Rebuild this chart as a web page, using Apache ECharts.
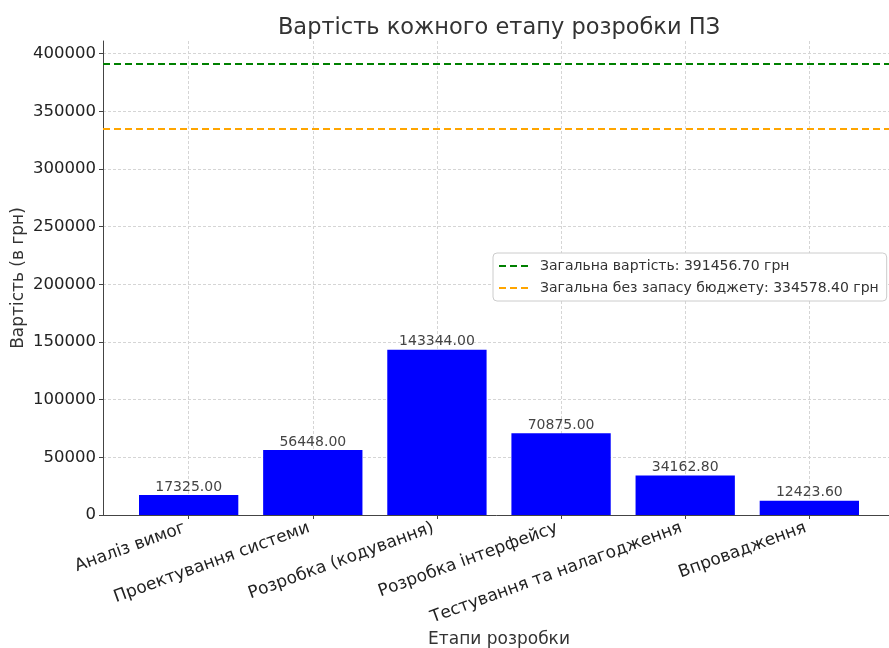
<!DOCTYPE html>
<html>
<head>
<meta charset="utf-8">
<script src="https://cdn.jsdelivr.net/npm/echarts@6/dist/echarts.min.js"></script>
<style>
  html, body { margin: 0; padding: 0; background: #fff; }
  #chart { width: 889px; height: 648px; }
</style>
</head>
<body>
<div id="chart"></div>
<script>
const stages = ['Аналіз вимог', 'Проектування системи', 'Розробка (кодування)', 'Розробка інтерфейсу', 'Тестування та налагодження', 'Впровадження'];
const costs = [17325.00, 56448.00, 143344.00, 70875.00, 34162.80, 12423.60];
const totalCost = 391456.70;
const totalNoReserve = 334578.40;
const yTicks = [0, 50000, 100000, 150000, 200000, 250000, 300000, 350000, 400000];
const xTicks = stages.map((s, i) => i);

const font = 'DejaVu Sans';
const chart = echarts.init(document.getElementById('chart'));

// matplotlib-style margins around the bars
const xMin = -0.69, xMax = stages.length - 1 + 0.69;
const yMax = totalCost * 1.05;

const options = {
  animation: false,
  title: {
    text: 'Вартість кожного етапу розробки ПЗ',
    left: 494,
    textAlign: 'center',
    top: 12,
    textStyle: { fontFamily: font, fontSize: 22.5, fontWeight: 'normal', color: '#333' },
  },
  legend: {
    left: 493,
    top: 253,
    orient: 'vertical',
    backgroundColor: '#fff',
    borderColor: '#ccc',
    borderWidth: 1,
    borderRadius: 4,
    padding: [6, 8, 6, 5],
    itemWidth: 30,
    itemHeight: 14,
    itemGap: 8,
    itemStyle: { opacity: 0 },
    textStyle: { fontFamily: font, fontSize: 14, color: '#333', padding: [0, 0, 0, 6] },
    data: [
      'Загальна вартість: ' + totalCost.toFixed(2) + ' грн',
      'Загальна без запасу бюджету: ' + totalNoReserve.toFixed(2) + ' грн',
    ],
  },
  grid: { left: 103, right: -6, top: 41, bottom: 133, outerBoundsMode: 'none', containLabel: false },
  xAxis: {
    type: 'value',
    min: xMin,
    max: xMax,
    name: 'Етапи розробки',
    nameLocation: 'middle',
    nameGap: 116,
    nameMoveOverlap: false,
    nameTextStyle: { fontFamily: font, fontSize: 17, color: '#333' },
    axisLine: { show: true, onZero: false, lineStyle: { color: '#444', width: 1 } },
    axisTick: { show: true, customValues: xTicks, length: 4, lineStyle: { color: '#444' } },
    axisLabel: {
      customValues: xTicks,
      rotate: 20,
      margin: 11,
      padding: [0, 4, 0, 0],
      fontFamily: font,
      fontSize: 17,
      color: '#222',
      formatter: v => stages[Math.round(v)],
    },
    splitLine: { show: true, lineStyle: { color: '#d5d5d5', type: [3, 2], width: 1 } },
  },
  yAxis: {
    type: 'value',
    min: 0,
    max: yMax,
    name: 'Вартість (в грн)',
    nameLocation: 'middle',
    nameGap: 76,
    nameMoveOverlap: false,
    nameTextStyle: { fontFamily: font, fontSize: 17, color: '#333' },
    axisLine: { show: true, onZero: false, lineStyle: { color: '#444', width: 1 } },
    axisTick: { show: true, customValues: yTicks, length: 4, lineStyle: { color: '#444' } },
    axisLabel: {
      customValues: yTicks,
      margin: 7,
      fontFamily: font,
      fontSize: 16.5,
      color: '#222',
      formatter: v => String(v),
    },
    splitLine: { show: true, lineStyle: { color: '#d5d5d5', type: [3, 2], width: 1 } },
  },
  series: [
    {
      type: 'bar',
      data: costs.map((v, i) => [i, v]),
      barWidth: '80%',
      itemStyle: { color: '#0000ff' },
      label: {
        show: true,
        position: 'top',
        distance: 1,
        fontFamily: font,
        fontSize: 14,
        color: '#444',
        formatter: p => p.value[1].toFixed(2),
      },
      z: 2,
    },
    {
      type: 'line',
      name: 'Загальна вартість: ' + totalCost.toFixed(2) + ' грн',
      data: [],
      symbol: 'none',
      color: '#008000',
      lineStyle: { color: '#008000', type: [7, 4], width: 2 },
      markLine: {
        silent: true,
        symbol: 'none',
        label: { show: false },
        lineStyle: { color: '#008000', type: [7, 4], width: 2 },
        data: [{ yAxis: totalCost }],
      },
    },
    {
      type: 'line',
      name: 'Загальна без запасу бюджету: ' + totalNoReserve.toFixed(2) + ' грн',
      data: [],
      symbol: 'none',
      color: '#ffa500',
      lineStyle: { color: '#ffa500', type: [7, 4], width: 2 },
      markLine: {
        silent: true,
        symbol: 'none',
        label: { show: false },
        lineStyle: { color: '#ffa500', type: [7, 4], width: 2 },
        data: [{ yAxis: totalNoReserve }],
      },
    },
  ],
};

chart.setOption(options);
</script>
</body>
</html>
